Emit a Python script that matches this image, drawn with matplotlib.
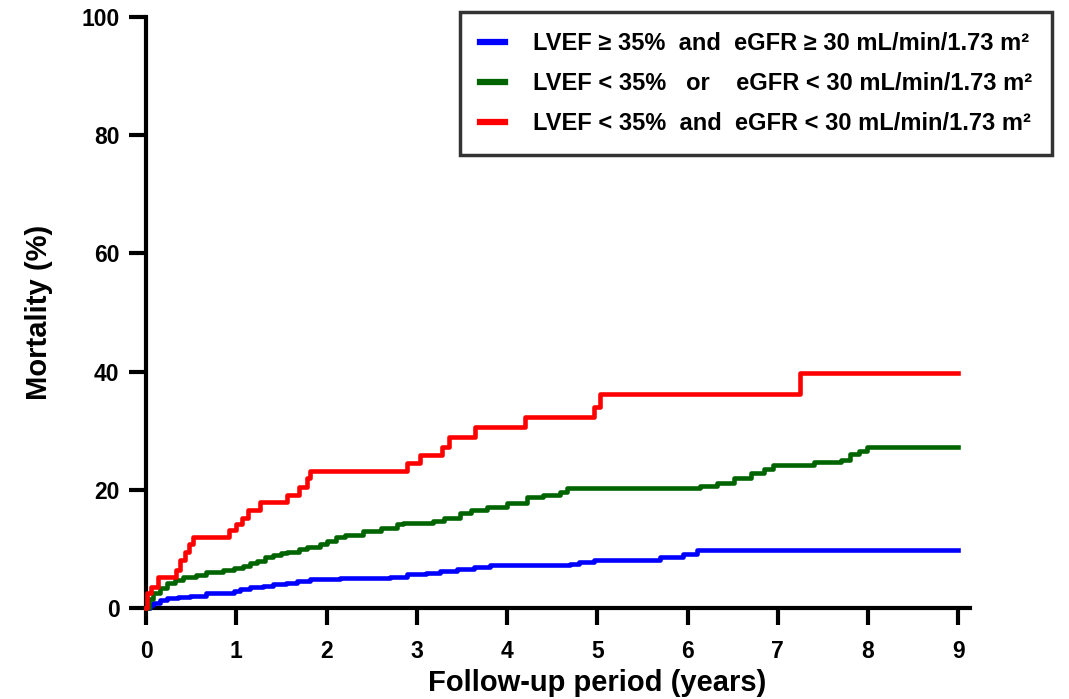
import matplotlib
matplotlib.use("Agg")
import matplotlib.pyplot as plt

# Kaplan-Meier style cumulative mortality
t_blue = [0, 0.04, 0.08, 0.15, 0.23, 0.35, 0.49, 0.67, 0.97, 1.04, 1.15, 1.3, 1.41,
          1.55, 1.67, 1.82, 2.15, 2.7, 2.89, 3.1, 3.26, 3.45, 3.63, 3.81, 4.7, 4.8,
          4.96, 5.7, 5.95, 6.1, 9.0]
m_blue = [0, 0.5, 0.9, 1.3, 1.7, 1.9, 2.1, 2.6, 2.8, 3.2, 3.5, 3.8, 4.1,
          4.3, 4.5, 4.9, 5.1, 5.3, 5.8, 6.0, 6.3, 6.6, 6.9, 7.2, 7.5, 7.8,
          8.2, 8.6, 9.2, 9.8, 9.8]

t_green = [0, 0.03, 0.08, 0.15, 0.23, 0.32, 0.41, 0.55, 0.67, 0.85, 0.97, 1.08, 1.15,
           1.23, 1.32, 1.41, 1.5, 1.56, 1.7, 1.78, 1.93, 2.0, 2.1, 2.2, 2.4, 2.6, 2.78,
           2.85, 3.18, 3.3, 3.48, 3.6, 3.78, 4.0, 4.22, 4.4, 4.59, 4.67, 6.14, 6.33,
           6.51, 6.7, 6.85, 6.95, 7.4, 7.7, 7.8, 7.9, 7.99, 9.0]
m_green = [0, 1.5, 2.5, 3.4, 4.2, 4.7, 5.2, 5.6, 6.1, 6.4, 6.8, 7.1, 7.6,
           8.0, 8.6, 9.0, 9.3, 9.5, 10.0, 10.3, 10.8, 11.3, 12.0, 12.4, 13.0, 13.5, 14.2,
           14.4, 14.8, 15.3, 16.0, 16.5, 17.1, 17.8, 18.7, 19.2, 19.7, 20.3, 20.7, 21.1,
           22.0, 22.8, 23.5, 24.2, 24.7, 25.0, 26.0, 26.6, 27.2, 27.2]

t_red = [0, 0.01, 0.05, 0.13, 0.33, 0.38, 0.43, 0.48, 0.52, 0.92, 1.0, 1.06, 1.13,
         1.26, 1.56, 1.70, 1.78, 1.82, 2.89, 3.04, 3.28, 3.36, 3.65, 4.2, 4.96,
         5.03, 7.25, 9.0]
m_red = [0, 2.5, 3.6, 5.2, 6.5, 8.1, 9.5, 10.8, 12.0, 13.2, 14.2, 15.2, 16.6,
         17.9, 19.1, 20.5, 22.0, 23.2, 24.5, 25.9, 27.2, 29.0, 30.6, 32.3, 34.0,
         36.2, 39.8, 39.8]

labels = ["LVEF \u2265 35%  and  eGFR \u2265 30 mL/min/1.73 m\u00b2",
          "LVEF < 35%   or    eGFR < 30 mL/min/1.73 m\u00b2",
          "LVEF < 35%  and  eGFR < 30 mL/min/1.73 m\u00b2"]
colors = ["#0000ff", "#006400", "#ff0000"]

plt.rcParams['font.family'] = ['Liberation Sans', 'DejaVu Sans']
plt.rcParams['font.weight'] = 'bold'

fig = plt.figure(figsize=(10.69, 6.99), dpi=100)
ax = fig.add_axes([146/1069, 1-608/699, 824/1069, 591/699])

series = [(t_blue, m_blue), (t_green, m_green), (t_red, m_red)]
for (t, m), c, lab in zip(series, colors, labels):
    ax.plot(t, m, drawstyle='steps-post', color=c, lw=3.3, label=lab,
            clip_on=False, zorder=3)

ax.set_xlim(0, 9.13)
ax.set_ylim(0, 100)
ax.set_xticks(range(0, 10))
ax.set_yticks(range(0, 101, 20))

for s in ['top', 'right']:
    ax.spines[s].set_visible(False)
for s in ['left', 'bottom']:
    ax.spines[s].set_linewidth(3)
ax.tick_params(width=3, length=12, labelsize=16.5)
ax.tick_params(axis='x', pad=11)
ax.tick_params(axis='y', pad=7)

ax.set_xlabel("Follow-up period (years)", fontsize=21, fontweight='bold')
ax.set_ylabel("Mortality (%)", fontsize=21, fontweight='bold')
ax.xaxis.set_label_coords(0.547, -0.104)
ax.yaxis.set_label_coords(-0.113, 0.5)

leg = ax.legend(loc='upper left', bbox_to_anchor=(460/1069, 1-12/699),
                bbox_transform=fig.transFigure, frameon=True,
                fancybox=False, edgecolor='black', borderaxespad=0,
                borderpad=0.85, labelspacing=0.72, handlelength=1.05,
                handletextpad=1.2, prop={'weight': 'bold', 'size': 17})
leg.get_frame().set_linewidth(2.5)
for ln in leg.get_lines():
    ln.set_linewidth(4.5)

fig.savefig("out.png", dpi=100)
